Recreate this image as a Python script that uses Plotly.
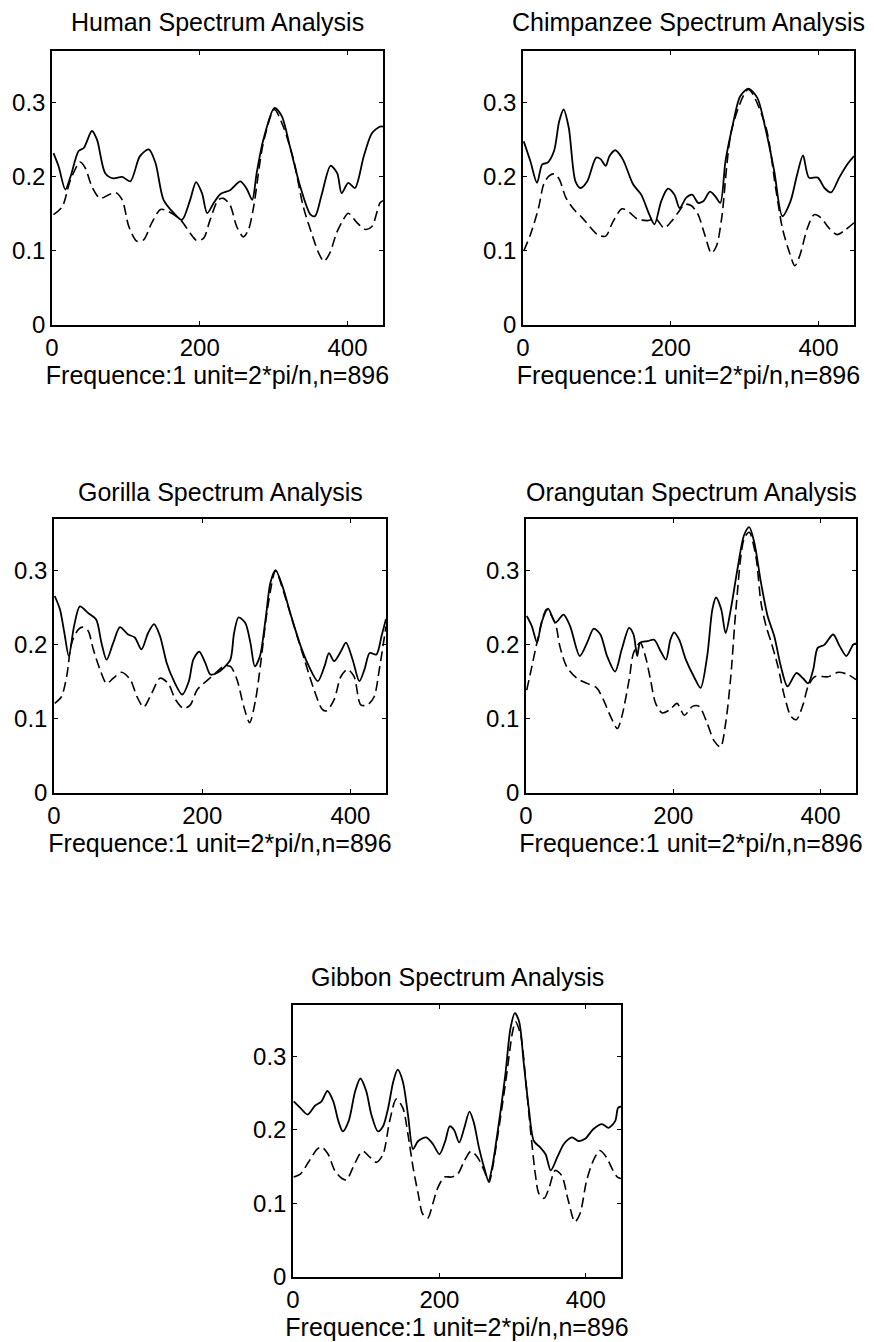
import plotly.graph_objects as go

# ---------------- data ----------------
human_solid_x = [2, 9, 18, 25, 36, 43, 54, 61, 72, 83, 95, 106, 119, 131, 140, 151, 165, 176, 187, 195, 203, 210, 219, 228, 241, 255, 264, 271, 277, 286, 301, 311, 322, 336, 350, 356, 365, 377, 386, 392, 401, 410, 422, 433, 444, 448]
human_solid_y = [0.232, 0.214, 0.183, 0.200, 0.235, 0.239, 0.262, 0.250, 0.205, 0.198, 0.200, 0.194, 0.228, 0.237, 0.219, 0.169, 0.151, 0.142, 0.169, 0.193, 0.178, 0.151, 0.165, 0.177, 0.182, 0.194, 0.183, 0.169, 0.205, 0.250, 0.293, 0.282, 0.241, 0.187, 0.149, 0.147, 0.176, 0.215, 0.205, 0.178, 0.192, 0.185, 0.228, 0.259, 0.268, 0.268]
human_dash_x = [2, 14, 25, 38, 45, 54, 65, 77, 86, 95, 104, 115, 124, 135, 147, 158, 174, 187, 196, 205, 214, 225, 232, 241, 250, 259, 266, 273, 286, 301, 313, 327, 340, 352, 361, 368, 376, 385, 394, 401, 413, 424, 433, 444, 448]
human_dash_y = [0.149, 0.160, 0.196, 0.220, 0.212, 0.187, 0.171, 0.176, 0.179, 0.169, 0.133, 0.113, 0.115, 0.138, 0.156, 0.153, 0.142, 0.124, 0.114, 0.117, 0.142, 0.169, 0.171, 0.162, 0.133, 0.119, 0.129, 0.160, 0.246, 0.291, 0.268, 0.223, 0.160, 0.122, 0.097, 0.086, 0.097, 0.124, 0.142, 0.151, 0.138, 0.129, 0.133, 0.165, 0.168]

chimp_solid_x = [1, 10, 19, 26, 33, 42, 49, 55, 62, 71, 78, 87, 99, 105, 112, 117, 125, 135, 149, 160, 171, 178, 187, 196, 205, 212, 221, 229, 237, 244, 253, 260, 267, 274, 283, 294, 305, 317, 328, 340, 351, 362, 371, 379, 387, 399, 408, 417, 428, 439, 448]
chimp_solid_y = [0.248, 0.221, 0.192, 0.217, 0.219, 0.235, 0.275, 0.291, 0.266, 0.194, 0.185, 0.194, 0.226, 0.224, 0.215, 0.228, 0.236, 0.224, 0.190, 0.176, 0.149, 0.136, 0.167, 0.184, 0.176, 0.158, 0.172, 0.176, 0.165, 0.167, 0.180, 0.174, 0.165, 0.221, 0.266, 0.309, 0.319, 0.307, 0.266, 0.208, 0.147, 0.167, 0.203, 0.229, 0.199, 0.199, 0.185, 0.179, 0.199, 0.217, 0.228]
chimp_dash_x = [1, 10, 21, 28, 35, 42, 49, 58, 69, 80, 92, 101, 112, 121, 134, 144, 155, 169, 180, 191, 201, 210, 219, 228, 237, 246, 255, 262, 269, 283, 305, 328, 342, 351, 360, 368, 375, 385, 394, 403, 414, 425, 437, 448]
chimp_dash_y = [0.100, 0.122, 0.158, 0.190, 0.201, 0.204, 0.197, 0.172, 0.156, 0.145, 0.131, 0.122, 0.120, 0.138, 0.157, 0.152, 0.143, 0.141, 0.143, 0.131, 0.140, 0.152, 0.163, 0.161, 0.149, 0.122, 0.097, 0.107, 0.145, 0.266, 0.318, 0.270, 0.185, 0.131, 0.100, 0.080, 0.095, 0.131, 0.149, 0.145, 0.131, 0.122, 0.129, 0.138]

gorilla_solid_x = [1, 8, 14, 20, 27, 35, 46, 57, 64, 71, 80, 89, 100, 109, 118, 127, 135, 143, 152, 161, 173, 182, 188, 196, 204, 211, 220, 229, 238, 243, 249, 258, 265, 271, 278, 286, 292, 299, 308, 320, 333, 344, 356, 365, 371, 378, 387, 394, 403, 412, 419, 426, 435, 442, 448]
gorilla_solid_y = [0.266, 0.248, 0.216, 0.185, 0.225, 0.252, 0.243, 0.234, 0.203, 0.180, 0.203, 0.224, 0.214, 0.210, 0.194, 0.216, 0.228, 0.212, 0.176, 0.153, 0.133, 0.151, 0.180, 0.191, 0.176, 0.160, 0.162, 0.169, 0.180, 0.216, 0.237, 0.230, 0.203, 0.171, 0.185, 0.239, 0.284, 0.301, 0.280, 0.239, 0.198, 0.171, 0.151, 0.171, 0.189, 0.178, 0.191, 0.203, 0.180, 0.151, 0.167, 0.189, 0.187, 0.212, 0.235]
gorilla_dash_x = [1, 10, 17, 24, 33, 39, 46, 53, 62, 71, 80, 91, 103, 112, 121, 132, 143, 154, 164, 175, 184, 193, 202, 216, 229, 238, 247, 256, 264, 272, 279, 288, 299, 310, 324, 338, 351, 362, 368, 378, 387, 396, 405, 414, 423, 432, 439, 446, 448]
gorilla_dash_y = [0.121, 0.130, 0.157, 0.203, 0.221, 0.224, 0.219, 0.194, 0.167, 0.148, 0.155, 0.163, 0.153, 0.130, 0.116, 0.135, 0.155, 0.148, 0.126, 0.114, 0.119, 0.139, 0.148, 0.160, 0.171, 0.171, 0.153, 0.117, 0.095, 0.126, 0.176, 0.248, 0.300, 0.271, 0.225, 0.180, 0.139, 0.113, 0.111, 0.126, 0.157, 0.167, 0.157, 0.119, 0.119, 0.130, 0.167, 0.212, 0.225]

orangutan_solid_x = [1, 8, 15, 21, 30, 40, 51, 60, 73, 83, 92, 101, 110, 121, 130, 140, 146, 151, 155, 165, 174, 183, 190, 196, 201, 208, 217, 228, 237, 246, 253, 258, 265, 271, 278, 287, 296, 303, 310, 319, 328, 337, 346, 355, 367, 376, 383, 390, 396, 405, 417, 426, 435, 444, 448]
orangutan_solid_y = [0.239, 0.225, 0.203, 0.230, 0.249, 0.230, 0.241, 0.225, 0.185, 0.203, 0.222, 0.214, 0.185, 0.164, 0.194, 0.223, 0.214, 0.185, 0.203, 0.205, 0.207, 0.191, 0.180, 0.207, 0.217, 0.207, 0.180, 0.157, 0.142, 0.185, 0.248, 0.264, 0.248, 0.216, 0.248, 0.302, 0.348, 0.359, 0.338, 0.284, 0.239, 0.212, 0.171, 0.144, 0.162, 0.155, 0.148, 0.167, 0.196, 0.200, 0.214, 0.198, 0.185, 0.200, 0.202]
orangutan_dash_x = [1, 8, 17, 28, 40, 46, 55, 69, 83, 96, 105, 115, 124, 130, 140, 146, 155, 162, 169, 176, 185, 196, 205, 215, 226, 235, 246, 255, 264, 271, 278, 285, 296, 303, 312, 319, 326, 333, 342, 351, 360, 367, 376, 383, 392, 410, 424, 437, 448]
orangutan_dash_y = [0.139, 0.171, 0.212, 0.248, 0.228, 0.198, 0.171, 0.155, 0.148, 0.142, 0.126, 0.103, 0.087, 0.103, 0.153, 0.189, 0.203, 0.185, 0.153, 0.121, 0.108, 0.113, 0.121, 0.105, 0.117, 0.117, 0.094, 0.071, 0.062, 0.094, 0.157, 0.248, 0.343, 0.352, 0.320, 0.257, 0.225, 0.203, 0.171, 0.130, 0.103, 0.099, 0.119, 0.144, 0.157, 0.157, 0.163, 0.160, 0.153]

gibbon_solid_x = [1, 10, 20, 30, 39, 47, 55, 62, 68, 76, 85, 92, 100, 107, 116, 123, 130, 137, 143, 150, 157, 164, 171, 182, 191, 200, 208, 214, 220, 227, 234, 241, 247, 254, 261, 267, 272, 281, 290, 297, 303, 309, 315, 322, 329, 338, 345, 352, 361, 370, 381, 390, 399, 410, 422, 431, 440, 444, 448]
gibbon_solid_y = [0.239, 0.230, 0.221, 0.233, 0.239, 0.253, 0.239, 0.212, 0.198, 0.212, 0.253, 0.270, 0.253, 0.221, 0.198, 0.205, 0.230, 0.266, 0.282, 0.266, 0.221, 0.174, 0.185, 0.190, 0.181, 0.167, 0.185, 0.205, 0.200, 0.183, 0.203, 0.225, 0.210, 0.176, 0.149, 0.131, 0.149, 0.208, 0.275, 0.338, 0.359, 0.347, 0.293, 0.230, 0.185, 0.176, 0.167, 0.145, 0.163, 0.181, 0.190, 0.185, 0.188, 0.201, 0.208, 0.203, 0.212, 0.230, 0.232]
gibbon_dash_x = [1, 10, 21, 33, 39, 48, 57, 67, 73, 82, 91, 96, 105, 114, 123, 132, 141, 150, 157, 164, 171, 177, 184, 191, 198, 207, 216, 225, 234, 243, 252, 261, 268, 272, 290, 300, 304, 311, 318, 325, 331, 336, 343, 350, 358, 367, 376, 385, 392, 401, 410, 419, 428, 437, 443, 448]
gibbon_dash_y = [0.136, 0.140, 0.156, 0.174, 0.177, 0.167, 0.145, 0.134, 0.132, 0.149, 0.167, 0.171, 0.163, 0.156, 0.167, 0.212, 0.242, 0.230, 0.194, 0.149, 0.113, 0.086, 0.080, 0.100, 0.122, 0.136, 0.136, 0.140, 0.158, 0.171, 0.163, 0.145, 0.129, 0.145, 0.262, 0.334, 0.347, 0.329, 0.266, 0.194, 0.140, 0.113, 0.107, 0.122, 0.145, 0.138, 0.104, 0.075, 0.086, 0.131, 0.158, 0.172, 0.163, 0.145, 0.136, 0.134]

titles = ["Human Spectrum Analysis", "Chimpanzee Spectrum Analysis",
          "Gorilla Spectrum Analysis", "Orangutan Spectrum Analysis",
          "Gibbon Spectrum Analysis"]
x_label = "Frequence:1 unit=2*pi/n,n=896"
x_tick_vals = [0, 200, 400]
y_tick_vals = [0, 0.1, 0.2, 0.3]
y_tick_text = ["0", "0.1", "0.2", "0.3"]
x_range = [0, 448]
y_range = [0, 0.37]

# ---------------- layout geometry (pixels) ----------------
W, H = 874, 1342
boxes = [  # left, right, top, bottom in pixels
    (52, 383, 51, 325),
    (523, 854, 51, 325),
    (54, 386, 519, 793),
    (526, 856, 519, 793),
    (293, 621, 1005, 1277),
]
title_y_px = [22, 22, 492, 492, 977]

series = [
    (human_solid_x, human_solid_y, human_dash_x, human_dash_y),
    (chimp_solid_x, chimp_solid_y, chimp_dash_x, chimp_dash_y),
    (gorilla_solid_x, gorilla_solid_y, gorilla_dash_x, gorilla_dash_y),
    (orangutan_solid_x, orangutan_solid_y, orangutan_dash_x, orangutan_dash_y),
    (gibbon_solid_x, gibbon_solid_y, gibbon_dash_x, gibbon_dash_y),
]

FONT = "Liberation Sans, Arial, Helvetica, sans-serif"
fig = go.Figure()
layout = dict(
    width=W, height=H, margin=dict(l=0, r=0, t=0, b=0, autoexpand=False),
    paper_bgcolor="white", plot_bgcolor="white", showlegend=False,
    font=dict(family=FONT, size=24, color="black"),
    annotations=[],
)

for i, (sx, sy, dx, dy) in enumerate(series):
    n = "" if i == 0 else str(i + 1)
    xa, ya = "x" + n, "y" + n
    fig.add_trace(go.Scatter(x=dx, y=dy, mode="lines", xaxis=xa, yaxis=ya,
                             line=dict(color="black", width=1.6, dash="10px,5px", shape="spline", smoothing=0.8)))
    fig.add_trace(go.Scatter(x=sx, y=sy, mode="lines", xaxis=xa, yaxis=ya,
                             line=dict(color="black", width=1.8, shape="spline", smoothing=0.8)))
    l, r, t, b = boxes[i]
    axis_common = dict(showgrid=False, zeroline=False, showline=True, linecolor="black",
                       linewidth=1.5, mirror="ticks", ticks="inside", ticklen=4, automargin=False,
                       tickcolor="black", tickfont=dict(family=FONT, size=24, color="black"))
    layout["xaxis" + n] = dict(domain=[l / W, r / W], range=x_range, tickvals=x_tick_vals,
                               anchor=ya, title=dict(text=x_label, standoff=4,
                                                     font=dict(family=FONT, size=25)),
                               **axis_common)
    layout["yaxis" + n] = dict(domain=[1 - b / H, 1 - t / H], range=y_range, tickvals=y_tick_vals,
                               ticktext=y_tick_text, anchor=xa, **axis_common)
    layout["annotations"].append(dict(
        text=titles[i], xref="paper", yref="paper", x=(l + r) / 2 / W, y=1 - title_y_px[i] / H,
        xanchor="center", yanchor="middle", showarrow=False,
        font=dict(family=FONT, size=25, color="black")))

fig.update_layout(**layout)
fig.write_html("out.html", config={"displayModeBar": False},
               post_script="document.body.style.margin='0px';document.body.style.overflow='hidden';")
